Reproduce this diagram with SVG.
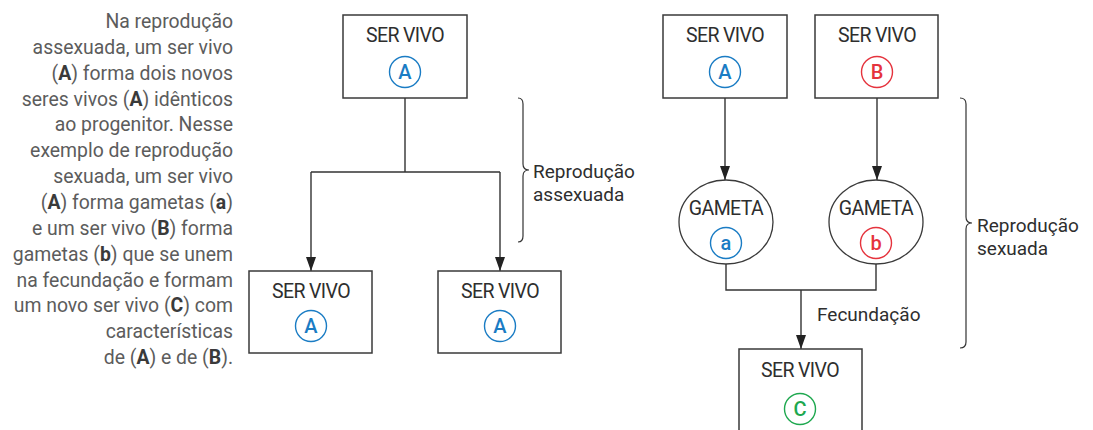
<svg xmlns="http://www.w3.org/2000/svg" width="1093" height="430" viewBox="0 0 1093 430">
<style>
.box{fill:#fff;stroke:#3a3a3a;stroke-width:1.5}
.ell{fill:#fff;stroke:#3a3a3a;stroke-width:1.3}
.lbl{font-family:Roboto,"Liberation Sans",sans-serif;font-size:19.5px;fill:#2e2e2e;text-anchor:middle;letter-spacing:-0.6px}
.side{font-family:Roboto,"Liberation Sans",sans-serif;font-size:19px;fill:#2e2e2e}
.para{font-family:Roboto,"Liberation Sans",sans-serif;font-size:19.4px;fill:#5c5c5c;text-anchor:end}
.para tspan.b{font-weight:bold;fill:#3a3a3a}
.ltr{font-family:Roboto,"Liberation Sans",sans-serif;font-size:20px;font-weight:500;text-anchor:middle}
.cb{fill:none;stroke:#1a7cc4;stroke-width:1.4}
.cr{fill:none;stroke:#e5333d;stroke-width:1.4}
.cg{fill:none;stroke:#1ea84f;stroke-width:1.4}
.tb{fill:#1a7cc4}.tr{fill:#e5333d}.tg{fill:#1ea84f}
.con{fill:none;stroke:#333;stroke-width:1.4}
.brace{fill:none;stroke:#333;stroke-width:1.2}
</style>
<defs>
<marker id="arr" markerUnits="userSpaceOnUse" markerWidth="14" markerHeight="10" viewBox="0 0 14 10" refX="14" refY="5" orient="auto">
<path d="M0,0 L14,5 L0,10 z" fill="#222"/>
</marker>
</defs>

<g id="paragraph">
<text class="para" x="233" y="28">Na reprodução</text>
<text class="para" x="233" y="54">assexuada, um ser vivo</text>
<text class="para" x="233" y="80">(<tspan class="b">A</tspan>) forma dois novos</text>
<text class="para" x="233" y="106">seres vivos (<tspan class="b">A</tspan>) idênticos</text>
<text class="para" x="233" y="131">ao progenitor. Nesse</text>
<text class="para" x="233" y="157">exemplo de reprodução</text>
<text class="para" x="233" y="183">sexuada, um ser vivo</text>
<text class="para" x="233" y="209">(<tspan class="b">A</tspan>) forma gametas (<tspan class="b">a</tspan>)</text>
<text class="para" x="233" y="235">e um ser vivo (<tspan class="b">B</tspan>) forma</text>
<text class="para" x="233" y="261">gametas (<tspan class="b">b</tspan>) que se unem</text>
<text class="para" x="233" y="287">na fecundação e formam</text>
<text class="para" x="233" y="312">um novo ser vivo (<tspan class="b">C</tspan>) com</text>
<text class="para" x="233" y="338">características</text>
<text class="para" x="233" y="364">de (<tspan class="b">A</tspan>) e de (<tspan class="b">B</tspan>).</text>
</g>

<g id="connectors">
<path class="con" d="M405,98 V172 M311,172 H500"/>
<path class="con" d="M311,172 V271" marker-end="url(#arr)"/>
<path class="con" d="M500,172 V271" marker-end="url(#arr)"/>
<path class="con" d="M725,98 V180" marker-end="url(#arr)"/>
<path class="con" d="M877,98 V180" marker-end="url(#arr)"/>
<path class="con" d="M726,264 V290 H876 V264"/>
<path class="con" d="M801,290 V349" marker-end="url(#arr)"/>
</g>

<g id="asex-parent">
<rect class="box" x="343" y="15" width="124" height="83"/>
<text class="lbl" x="405" y="42">SER VIVO</text>
<circle class="cb" cx="405" cy="72" r="15.5"/>
<text class="ltr tb" x="405" y="79">A</text>
</g>
<g id="asex-child1">
<rect class="box" x="249" y="271" width="123" height="82"/>
<text class="lbl" x="311" y="298">SER VIVO</text>
<circle class="cb" cx="311" cy="326" r="15.5"/>
<text class="ltr tb" x="311" y="333">A</text>
</g>
<g id="asex-child2">
<rect class="box" x="438" y="271" width="123" height="82"/>
<text class="lbl" x="500" y="298">SER VIVO</text>
<circle class="cb" cx="500" cy="326" r="15.5"/>
<text class="ltr tb" x="500" y="333">A</text>
</g>
<g id="asex-brace">
<path class="brace" d="M518,98 Q523,98 523,104 L523,164 Q523,170 529,170 Q523,170 523,176 L523,236 Q523,242 518,242"/>
<text class="side" x="533" y="178">Reprodução</text>
<text class="side" x="533" y="201">assexuada</text>
</g>

<g id="sex-parentA">
<rect class="box" x="663" y="15" width="124" height="83"/>
<text class="lbl" x="725" y="42">SER VIVO</text>
<circle class="cb" cx="725" cy="72" r="15.5"/>
<text class="ltr tb" x="725" y="79">A</text>
</g>
<g id="sex-parentB">
<rect class="box" x="815" y="15" width="123" height="83"/>
<text class="lbl" x="877" y="42">SER VIVO</text>
<circle class="cr" cx="877" cy="72" r="15.5"/>
<text class="ltr tr" x="877" y="79">B</text>
</g>
<g id="gamete-a">
<ellipse class="ell" cx="726" cy="222" rx="47" ry="42"/>
<text class="lbl" x="726" y="215">GAMETA</text>
<circle class="cb" cx="726" cy="243" r="15.5"/>
<text class="ltr tb" x="726" y="250">a</text>
</g>
<g id="gamete-b">
<ellipse class="ell" cx="876" cy="222" rx="47" ry="42"/>
<text class="lbl" x="876" y="215">GAMETA</text>
<circle class="cr" cx="876" cy="243" r="15.5"/>
<text class="ltr tr" x="876" y="250">b</text>
</g>
<g id="fecundacao">
<text class="side" x="817" y="321">Fecundação</text>
</g>
<g id="sex-child">
<rect class="box" x="739" y="349" width="123" height="100"/>
<text class="lbl" x="800" y="377">SER VIVO</text>
<circle class="cg" cx="800" cy="409" r="15.5"/>
<text class="ltr tg" x="800" y="416">C</text>
</g>
<g id="sex-brace">
<path class="brace" d="M960,98 Q966,98 966,104 L966,217 Q966,223 972,223 Q966,223 966,229 L966,342 Q966,348 960,348"/>
<text class="side" x="977" y="232">Reprodução</text>
<text class="side" x="977" y="255">sexuada</text>
</g>
</svg>
